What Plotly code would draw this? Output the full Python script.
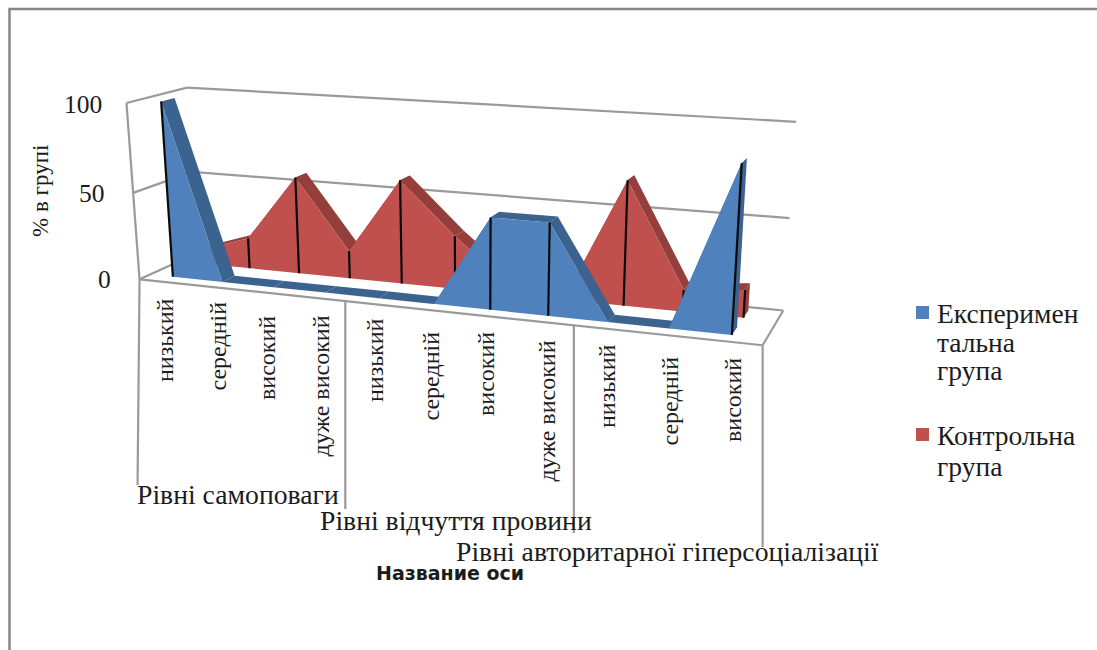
import numpy as np
import plotly.graph_objects as go

# Chart data
groups = ["Рівні самоповаги", "Рівні відчуття провини", "Рівні авторитарної гіперсоціалізації"]
categories = ["низький", "середній", "високий", "дуже високий",
              "низький", "середній", "високий", "дуже високий",
              "низький", "середній", "високий"]
experimental = [100, 0, 0, 0, 0, 0, 50, 50, 0, 0, 87]
control = [8, 18, 56, 16, 59, 30, 5, 3, 68, 12, 15]
value_ticks = [0, 50, 100]
series_names = [["Експеримен", "тальна", "група"], ["Контрольна", "група"]]
value_title = "% в групі"
category_title = "Название оси"

# Camera: box coordinates (across 0-1, depth 0-1, value 0-100) tied to screen positions
CAMERA = [
    ((0, 0, 0), (139, 279)), ((4 / 11, 0, 0), (344, 301)), ((8 / 11, 0, 0), (574, 325)),
    ((1, 0, 0), (763, 346)), ((0, 0, 50), (134, 193)), ((0, 0, 100), (127, 103)),
    ((0, 1, 0), (198, 255)), ((0, 1, 50), (192, 171)), ((0, 1, 100), (186, 87)),
    ((1, 1, 0), (783, 309)), ((1, 1, 50), (790, 218)), ((1, 1, 100), (796, 123)),
]
rows, rhs = [], []
for (t, d, v), (px, py) in CAMERA:
    v = v / 100
    rows.append([t, d, v, 1, 0, 0, 0, 0, -px * t, -px * d, -px * v]); rhs.append(px)
    rows.append([0, 0, 0, 0, t, d, v, 1, -py * t, -py * d, -py * v]); rhs.append(py)
H = np.linalg.lstsq(np.array(rows, float), np.array(rhs, float), rcond=None)[0]


def project(t, d, v):
    v = v / 100
    w = H[8] * t + H[9] * d + H[10] * v + 1
    return (H[0] * t + H[1] * d + H[2] * v + H[3]) / w, (H[4] * t + H[5] * d + H[6] * v + H[7]) / w


GRID = "#9a9a9a"
FONT = "Liberation Serif"
INK = "#1c1c1c"
n = len(categories)
slot = lambda i: (i + 0.46) / n

fig = go.Figure()


def polygon(points, color):
    xs, ys = zip(*[project(*p) for p in points])
    fig.add_trace(go.Scatter(x=xs + xs[:1], y=ys + ys[:1], mode="lines", fill="toself", fillcolor=color,
                             line=dict(width=0, color=color), hoverinfo="skip", showlegend=False))


def segment(a, b, color=GRID, width=2.2):
    xs, ys = zip(project(*a), project(*b))
    fig.add_trace(go.Scatter(x=xs, y=ys, mode="lines", line=dict(color=color, width=width),
                             hoverinfo="skip", showlegend=False))


# Walls and floor outline
for v in value_ticks:
    segment((0, 0, v), (0, 1, v))
    segment((0, 1, v), (1, 1, v))
segment((0, 0, 0), (0, 0, 100))
segment((0, 0, 0), (1, 0, 0))
segment((1, 0, 0), (1, 1, 0))


def ribbon(values, d0, d1, face, dark):
    # Top strip first so the front face overlaps it on rising stretches
    for i in range(n - 1):
        polygon([(slot(i), d0, values[i]), (slot(i + 1), d0, values[i + 1]),
                 (slot(i + 1), d1, values[i + 1]), (slot(i), d1, values[i])], dark)
    last = slot(n - 1)
    polygon([(last, d0, 0), (last, d1, 0), (last, d1, values[-1]), (last, d0, values[-1])], dark)
    outline = [(slot(i), d0, values[i]) for i in range(n)]
    polygon([(slot(0), d0, 0)] + outline + [(last, d0, 0)], face)
    for i, v in enumerate(values):
        if v > 0:
            segment((slot(i), d0, 0), (slot(i), d0, v), color="#0a0a0a", width=2.2)


ribbon(control, 0.68, 0.90, "#c0504d", "#953f3c")
ribbon(experimental, 0.18, 0.40, "#4f81bd", "#3c628f")

# Vertical separators of the two-level category axis
for t, bottom in [(0, 485), (4 / 11, 509), (8 / 11, 533), (1, 547)]:
    x0, y0 = project(t, 0, 0)
    fig.add_trace(go.Scatter(x=[x0, x0 - (2 if t == 0 else 0)], y=[y0, bottom], mode="lines",
                             line=dict(color=GRID, width=2.2), hoverinfo="skip", showlegend=False))


def label(text, x, y, size, xanchor="center", yanchor="middle", angle=0, family=FONT):
    fig.add_annotation(x=x, y=y, xref="x", yref="y", text=text, showarrow=False, textangle=angle,
                       xanchor=xanchor, yanchor=yanchor,
                       font=dict(family=family, size=size, color=INK), borderpad=0)


# Category labels
label_x = [165, 217, 267, 320, 375, 430, 486, 546, 607, 669, 733]
label_bottom = [383, 392, 401, 458, 403, 422, 417, 483, 429, 447, 443]
for text, x, y in zip(categories, label_x, label_bottom):
    label(text, x, y, 24, yanchor="bottom", angle=-90)

for text, x, y in zip(groups, [136, 319, 455], [494, 520, 551]):
    label(text, x, y, 27.7, xanchor="left")
label(f"<b>{category_title}</b>", 450, 573, 19, family="DejaVu Sans")

# Value axis labels
for tick, x, y in zip(value_ticks, [112, 106, 103], [279, 193, 104]):
    label(str(tick), x, y, 25.5, xanchor="right")
label(value_title, 40, 191, 23, angle=-90)

# Legend
legend_colors = ["#4f81bd", "#c0504d"]
legend_rows = [[313, 342, 370], [435, 466]]
for lines, color, row_y in zip(series_names, legend_colors, legend_rows):
    fig.add_trace(go.Scatter(x=[922.5], y=[row_y[0] - 0.5], mode="markers", showlegend=False, hoverinfo="skip",
                             marker=dict(symbol="square", size=13, color=color, line=dict(width=0))))
    for text, y in zip(lines, row_y):
        label(text, 936, y, 27.5, xanchor="left")

fig.update_layout(
    width=1097, height=650, margin=dict(l=0, r=0, t=0, b=0), showlegend=False,
    paper_bgcolor="white", plot_bgcolor="white",
    xaxis=dict(range=[0, 1097], visible=False, fixedrange=True),
    yaxis=dict(range=[650, 0], visible=False, fixedrange=True),
    shapes=[dict(type="path", path="M 9.5 650 L 9.5 9 L 1097 9", xref="x", yref="y",
                 line=dict(color="#868686", width=2.5))],
)

fig.write_html("out.html")
